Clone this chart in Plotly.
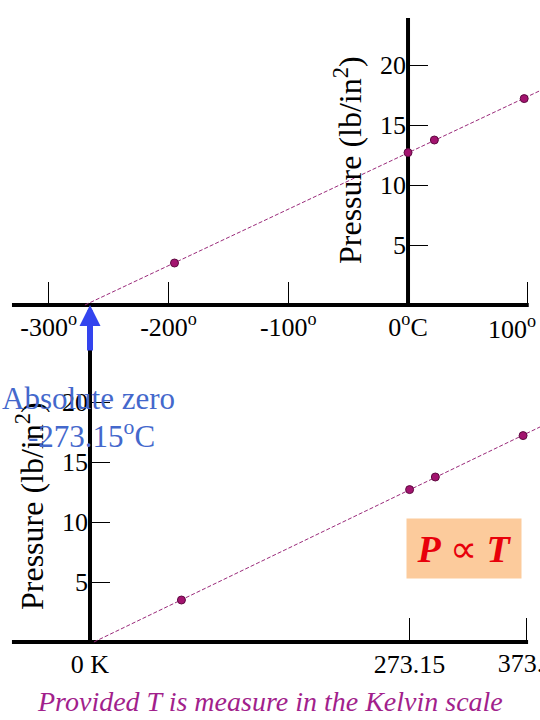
import numpy as np
import plotly.graph_objects as go

# readings (gas at fixed volume)
temp_c = [-195, 0, 22, 97]
pressure = [3.5, 12.7, 13.75, 17.2]
temp_k = [t + 273.15 for t in temp_c]

c_ticks = [-300, -200, -100, 0, 100]
c_labels = ['-300<sup>o</sup>', '-200<sup>o</sup>', '-100<sup>o</sup>', '0<sup>o</sup>C', '100<sup>o</sup>']
k_ticks = [0, 273.15, 373.15]
k_labels = ['0 K', '273.15', '373.15']
p_ticks = [5, 10, 15, 20]

W, H = 540, 720
serif = 'Liberation Serif, Times New Roman, serif'
pt_col = '#a3136f'
line_col = '#9a2a7a'

# axis ranges chosen so that the picture lines up in pixels
xr_c = [-340.7, 110.2]
yr_top = [-4.583, 25.417]
xr_k = [-76.92, 384.6]
yr_bot = [-6.5, 26.0]
px_k = W / (xr_k[1] - xr_k[0])

# straight-line fit, drawn from where it meets P = 0
a_c, b_c = np.polyfit(temp_c, pressure, 1)
a_k, b_k = np.polyfit(temp_k, pressure, 1)
fit_c = [-b_c / a_c, xr_c[1]]
fit_k = [-b_k / a_k, xr_k[1]]

fig = go.Figure()

fig.add_trace(go.Scatter(x=fit_c, y=[a_c * x + b_c for x in fit_c], mode='lines',
                         line=dict(color=line_col, width=1, dash='4px,2px'),
                         xaxis='x', yaxis='y', hoverinfo='skip'))
fig.add_trace(go.Scatter(x=temp_c, y=pressure, mode='markers',
                         marker=dict(color=pt_col, size=8, line=dict(color='#5e0b40', width=1)),
                         xaxis='x', yaxis='y'))
fig.add_trace(go.Scatter(x=fit_k, y=[a_k * x + b_k for x in fit_k], mode='lines',
                         line=dict(color=line_col, width=1, dash='4px,2px'),
                         xaxis='x2', yaxis='y2', hoverinfo='skip'))
fig.add_trace(go.Scatter(x=temp_k, y=pressure, mode='markers',
                         marker=dict(color=pt_col, size=8, line=dict(color='#5e0b40', width=1)),
                         xaxis='x2', yaxis='y2'))

tick_font = dict(family=serif, size=26, color='black')
common = dict(showgrid=False, zeroline=False, showline=False, ticks='inside',
              tickwidth=1, tickcolor='black', tickfont=tick_font, anchor='free')

# last tick label of each x axis sits at the right edge, so it is placed by hand
fig.update_layout(
    width=W, height=H,
    margin=dict(l=0, r=0, t=0, b=0),
    paper_bgcolor='white', plot_bgcolor='rgba(0,0,0,0)',
    showlegend=False,
    xaxis=dict(domain=[0, 1], range=xr_c, position=1 - 305 / H, ticklen=23,
               ticklabelstandoff=4, tickvals=c_ticks, ticktext=c_labels[:-1] + [''], **common),
    yaxis=dict(domain=[0.5, 1], range=yr_top, position=408 / W, ticklen=19,
               ticklabelstandoff=2, tickvals=p_ticks, **common),
    xaxis2=dict(domain=[0, 1], range=xr_k, position=1 - 642 / H, ticklen=24,
                ticklabelstandoff=4, tickvals=k_ticks, ticktext=k_labels[:-1] + [''], **common),
    yaxis2=dict(domain=[0, 1 - 330 / H], range=yr_bot, position=90 / W, ticklen=19,
                ticklabelstandoff=2, tickvals=p_ticks, **common),
)

fig.add_annotation(x=c_ticks[-1], y=0, xref='x', yref='y', text=c_labels[-1],
                   xanchor='center', yanchor='middle', xshift=-16, yshift=-22,
                   showarrow=False, font=tick_font)
# clipped by the plot area, like the cut-off label in the original
fig.add_trace(go.Scatter(x=[k_ticks[-1] + 7 / px_k], y=[-23.5 / 12], mode='text',
                         text=[k_labels[-1]], textposition='middle center',
                         textfont=tick_font, cliponaxis=True,
                         xaxis='x2', yaxis='y2', hoverinfo='skip'))

# thick axis lines
ax_line = dict(type='line', layer='below', line=dict(color='black', width=4))
fig.add_shape(xref='x', yref='y', x0=-330.7, x1=100.8, y0=0, y1=0, **ax_line)
fig.add_shape(xref='x', yref='y', x0=0, x1=0, y0=-0.17, y1=23.92, **ax_line)
fig.add_shape(xref='x2', yref='y2', x0=-66.7, x1=374.4, y0=0, y1=0, **ax_line)
fig.add_shape(xref='x2', yref='y2', x0=0, x1=0, y0=-0.17, y1=25.2, **ax_line)


def label(px, py, text, size, color, **kw):
    fig.add_annotation(x=px / W, y=1 - py / H, xref='paper', yref='paper', text=text,
                       xanchor='center', yanchor='middle', showarrow=False,
                       font=dict(family=serif, size=size, color=color), **kw)


title = 'Pressure (lb/in<sup>2</sup>)'
label(348, 160, title, 32, 'black', textangle=-90)
label(30, 506, title, 32, 'black', textangle=-90)

# arrow at absolute zero
fig.add_annotation(x=0, y=0, xref='x2', yref='y', text='', showarrow=True,
                   ax=0, ay=47, arrowhead=2, arrowsize=0.7, arrowwidth=6, arrowcolor='#3344ee')

blue = '#4468cc'
label(88, 398, 'Absolute zero', 31, blue)
label(91, 434, '-273.15<sup>o</sup>C', 31, blue)

label(464, 548, '<b><i>P</i></b> \u221d <b><i>T</i></b>', 38, '#e8000b',
      width=112, height=57, bgcolor='#fccb9c')

label(270, 701, '<i>Provided T is measure in the Kelvin scale</i>', 28, '#a21f8c')

fig.write_html('out.html', config={'displayModeBar': False},
               post_script="document.body.style.margin='0';")
